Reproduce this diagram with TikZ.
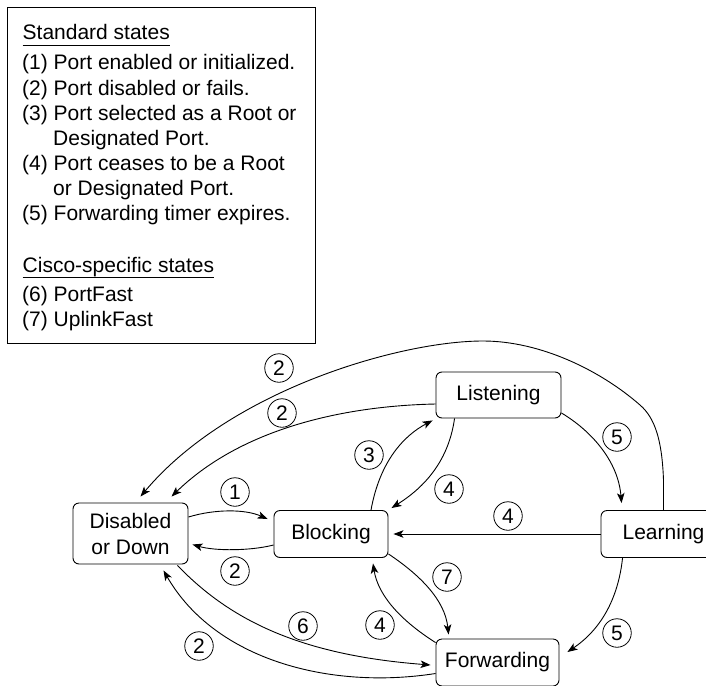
\documentclass[tikz,border=0pt]{standalone}
\usepackage{fontspec}
\setmainfont{Liberation Sans}
\usetikzlibrary{arrows.meta,calc}
\begin{document}
\begin{tikzpicture}[x=1pt,y=-1pt,
  state/.style={draw,rounded corners=6pt,line width=0.9pt,inner sep=0pt,
    font=\fontsize{21}{26}\selectfont,align=center},
  num/.style={draw,circle,line width=0.8pt,inner sep=0pt,minimum size=28.5pt,
    font=\fontsize{21}{21}\selectfont},
  leg/.style={anchor=base west,inner sep=0pt,font=\fontsize{21}{25}\selectfont},
  conn/.style={line width=0.9pt,-{Stealth[length=10pt,width=7.5pt,inset=2.5pt]}},
  ulin/.style={line width=0.9pt}]
\useasboundingbox (0,0) rectangle (706,685);
% legend
\node[draw,line width=0.9pt,minimum width=307.5pt,minimum height=335.5pt,inner sep=0pt] (legbox) at (161.25,175.25) {};
\node[leg] (l0) at (22.5,40) {Standard states};
\draw[ulin] (l0.base west)+(0,5) -- ($(l0.base east)+(0,5)$);
\node[leg] (l1) at (22,69) {(1) Port enabled or initialized.};
\node[leg] (l2) at (22,95) {(2) Port disabled or fails.};
\node[leg] (l3) at (22,120) {(3) Port selected as a Root or};
\node[leg] (l3b) at (53,145) {Designated Port.};
\node[leg] (l4) at (22,170) {(4) Port ceases to be a Root};
\node[leg] (l4b) at (53,195) {or Designated Port.};
\node[leg] (l5) at (22,220) {(5) Forwarding timer expires.};
\node[leg] (l6) at (22.5,272) {Cisco-specific states};
\draw[ulin] (l6.base west)+(0,5) -- ($(l6.base east)+(0,5)$);
\node[leg] (l7) at (22,301) {(6) PortFast};
\node[leg] (l8) at (22,326) {(7) UplinkFast};
% states
\node[state,minimum width=115pt,minimum height=61pt] (dis) at (130.5,533.5) {Disabled\\or Down};
\node[state,minimum width=114pt,minimum height=47pt] (blk) at (331,534) {Blocking};
\node[state,minimum width=125pt,minimum height=46pt] (lis) at (498.5,395) {Listening};
\node[state,minimum width=125pt,minimum height=47pt] (lrn) at (663.5,534) {Learning};
\node[state,minimum width=123pt,minimum height=47pt] (fwd) at (497.5,662.5) {Forwarding};
% connectors
\draw[conn] (lrn.north) -- (663.5,480) .. controls (662,440) and (655,418) .. (640,405)
  .. controls (600,370) and (540,341) .. (483,341)
  .. controls (400,341) and (230,390) .. ($(dis.north)+(10,-6)$);
\draw[conn] ($(lis.west)+(0,9)$) .. controls (340,406) and (240,430) .. ($(dis.north)+(41,-6)$);
\draw[conn] ($(dis.east)+(0,-16.5)$) .. controls (215,509) and (245,509) .. ($(blk.west)+(-6,-15)$);
\draw[conn] ($(blk.west)+(0,11)$) .. controls (250,551) and (215,551) .. ($(dis.east)+(4,11)$);
\draw[conn] ($(dis.south east)+(-11,1)$) .. controls (230,620) and (300,655) .. ($(fwd.west)+(-5,2.5)$);
\draw[conn] ($(fwd.west)+(0,11)$) .. controls (330,690) and (215,660) .. ($(dis.south)+(33,6)$);
\draw[conn] ($(blk.north)+(40,0)$) .. controls (380,460) and (405,435) .. ($(lis.south west)+(-3,2)$);
\draw[conn] ($(lis.south west)+(19,0)$) .. controls (448,465) and (420,490) .. ($(blk.north east)+(3,-2)$);
\draw[conn] ($(lis.east)+(0,18)$) .. controls (590,430) and (618,460) .. ($(lrn.north west)+(21,-7)$);
\draw[conn,shorten >=5pt] (lrn.west) -- (blk.east);
\draw[conn] ($(blk.south east)+(0,-4)$) .. controls (420,575) and (445,600) .. ($(fwd.north west)+(13,-4)$);
\draw[conn] ($(fwd.north west)+(0,4)$) .. controls (400,620) and (378,595) .. ($(blk.south)+(42,5.5)$);
\draw[conn] ($(lrn.south west)+(22,0)$) .. controls (618,600) and (600,630) .. ($(fwd.east)+(8,-10.5)$);
% labels
\node[num] (n2a) at (279,368) {2};
\node[num] (n2b) at (282,413) {2};
\node[num] (n1) at (235,492) {1};
\node[num] (n2c) at (235,571) {2};
\node[num] (n6) at (303,626) {6};
\node[num] (n2d) at (199,646) {2};
\node[num] (n3) at (369,455) {3};
\node[num] (n4a) at (449,489) {4};
\node[num] (n4b) at (508,516) {4};
\node[num] (n5a) at (617,437) {5};
\node[num] (n7) at (447,577) {7};
\node[num] (n4c) at (380,625) {4};
\node[num] (n5b) at (617,633) {5};
\end{tikzpicture}
\end{document}
